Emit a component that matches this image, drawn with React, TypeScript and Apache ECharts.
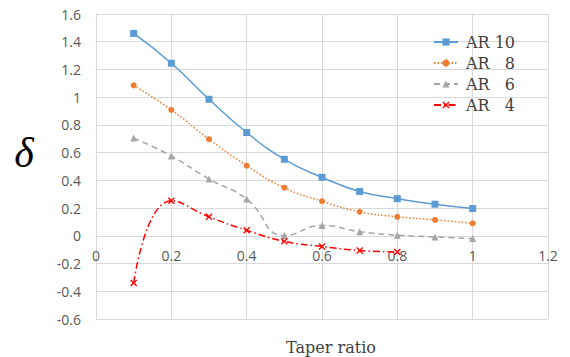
import React, { useEffect, useRef } from "react";
import * as echarts from "echarts";

const taper = [0.1, 0.2, 0.3, 0.4, 0.5, 0.6, 0.7, 0.8, 0.9, 1.0];
const ar10 = [1.46, 1.245, 0.985, 0.745, 0.552, 0.422, 0.32, 0.268, 0.228, 0.197];
const ar8 = [1.085, 0.908, 0.697, 0.506, 0.347, 0.25, 0.173, 0.137, 0.115, 0.09];
const ar6 = [0.705, 0.576, 0.41, 0.265, 0.002, 0.074, 0.03, 0.005, -0.008, -0.02];
const ar4 = [-0.34, 0.253, 0.137, 0.04, -0.04, -0.077, -0.106, -0.116];
const seriesNames = ["AR 10", "AR   8", "AR   6", "AR   4"];
const colors = ["#5B9BD5", "#ED7D31", "#A5A5A5", "#FF0000"];

const crossPath = "path://M0,1.4L1.4,0L5,3.6L8.6,0L10,1.4L6.4,5L10,8.6L8.6,10L5,6.4L1.4,10L0,8.6L3.6,5Z";

function pairs(vals: number[]) {
  return vals.map((v, i) => [taper[i], v]);
}

export default function App() {
  const ref = useRef<HTMLDivElement>(null);
  useEffect(() => {
    if (!ref.current) return;
    const chart = echarts.init(ref.current, null, { renderer: "svg" });
    const tickFont = { fontFamily: "Open Sans", fontSize: 14, color: "#595959" };
    chart.setOption({
      animation: false,
      backgroundColor: "#ffffff",
      grid: { left: 96, right: 22, top: 14, bottom: 38 },
      xAxis: {
        type: "value",
        min: 0,
        max: 1.2,
        interval: 0.2,
        offset: -83,
        axisLine: { onZero: false, lineStyle: { color: "#D9D9D9", width: 1 } },
        axisTick: { show: false },
        axisLabel: { ...tickFont, margin: 12 },
        splitLine: { show: true, lineStyle: { color: "#D9D9D9", width: 1 } },
      },
      yAxis: {
        type: "value",
        min: -0.6,
        max: 1.6,
        interval: 0.2,
        axisLine: { show: true, onZero: false, lineStyle: { color: "#D9D9D9", width: 1 } },
        axisTick: { show: false },
        axisLabel: { ...tickFont, margin: 15 },
        splitLine: { show: true, lineStyle: { color: "#D9D9D9", width: 1 } },
      },
      legend: {
        orient: "vertical",
        left: 428,
        top: 29,
        itemWidth: 24,
        itemHeight: 9,
        itemGap: 5,
        textStyle: {
          fontFamily: "DejaVu Serif",
          fontSize: 16,
          color: "#404040",
          padding: [0, 0, 0, 3],
        },
        data: seriesNames,
      },
      graphic: [
        {
          type: "text",
          x: 24,
          y: 153,
          style: {
            text: "δ",
            font: "italic 42px 'Liberation Serif'",
            fill: "#000",
            align: "center",
            verticalAlign: "middle",
          },
        },
        {
          type: "text",
          x: 331,
          y: 347,
          style: {
            text: "Taper ratio",
            font: "16px 'DejaVu Serif'",
            fill: "#404040",
            align: "center",
            verticalAlign: "middle",
          },
        },
      ],
      series: [
        {
          name: seriesNames[0],
          type: "line",
          smooth: 0.5,
          data: pairs(ar10),
          symbol: "rect",
          symbolSize: 7,
          lineStyle: { color: colors[0], width: 1.5, type: "solid" },
          itemStyle: { color: colors[0] },
        },
        {
          name: seriesNames[1],
          type: "line",
          smooth: 0.5,
          data: pairs(ar8),
          symbol: "circle",
          symbolSize: 6,
          lineStyle: { color: colors[1], width: 1.5, type: [1.5, 2] },
          itemStyle: { color: colors[1] },
        },
        {
          name: seriesNames[2],
          type: "line",
          smooth: 0.5,
          data: pairs(ar6),
          symbol: "triangle",
          symbolSize: 7,
          lineStyle: { color: colors[2], width: 1.5, type: [6, 4] },
          itemStyle: { color: colors[2] },
        },
        {
          name: seriesNames[3],
          type: "line",
          smooth: 0.5,
          data: pairs(ar4),
          symbol: crossPath,
          symbolSize: 7,
          lineStyle: { color: colors[3], width: 1.5, type: [7, 3, 1.5, 3] },
          itemStyle: { color: colors[3] },
        },
      ],
    });
    return () => chart.dispose();
  }, []);
  return (
    <div
      ref={ref}
      style={{ position: "absolute", left: 0, top: 0, width: 570, height: 357, background: "#fff" }}
    />
  );
}
